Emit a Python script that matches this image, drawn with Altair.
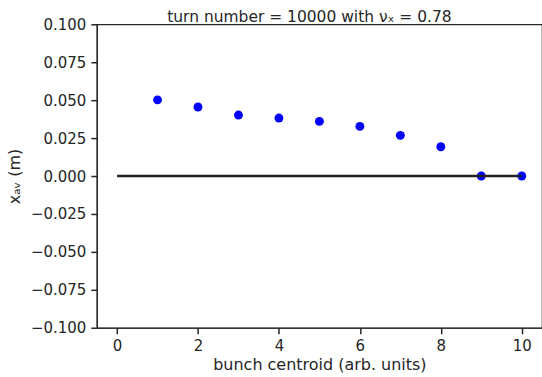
import altair as alt
import pandas as pd

bunch = [1, 2, 3, 4, 5, 6, 7, 8, 9, 10]
x_av = [0.0502, 0.0455, 0.0402, 0.0382, 0.0360, 0.0327, 0.0268, 0.0193, 0.0, 0.0]
line_x = [0, 10]
line_y = [0.0, 0.0]
x_ticks = [0, 2, 4, 6, 8, 10]
y_ticks = [-0.1, -0.075, -0.05, -0.025, 0.0, 0.025, 0.05, 0.075, 0.1]

pts = pd.DataFrame({"bunch": bunch, "xav": x_av})
ln = pd.DataFrame({"bunch": line_x, "xav": line_y})

FONT = "DejaVu Sans"
xs = alt.Scale(domain=[-0.5, 10.5], nice=False, zero=False)
ys = alt.Scale(domain=[-0.1, 0.1], nice=False, zero=False)

xenc = alt.X("bunch:Q", scale=xs,
             axis=alt.Axis(title="bunch centroid (arb. units)", values=x_ticks,
                           format="d", grid=False, titlePadding=3))
yenc = alt.Y("xav:Q", scale=ys,
             axis=alt.Axis(title="xₐᵥ (m)", values=y_ticks, tickCount=9,
                           format=".3f", grid=False, titlePadding=8,
                           labelOverlap=False))

points = alt.Chart(pts).mark_circle(size=80, color="#0000ff", opacity=1).encode(x=xenc, y=yenc)
line = alt.Chart(ln).mark_line(color="#222222", strokeWidth=2.5).encode(x=xenc, y=yenc)

chart = alt.layer(points, line).properties(
    width=446, height=304,
    title=alt.TitleParams("turn number = 10000 with νₓ = 0.78", font=FONT, fontSize=15.5,
                          fontWeight="normal", color="#262626", offset=-8, dx=-10),
    autosize=alt.AutoSizeParams(type="none"),
    padding={"left": 97, "top": 24, "right": 0, "bottom": 49},
).configure_view(stroke="#262626", strokeWidth=1.2).configure_axis(
    labelFont=FONT, titleFont=FONT, labelFontSize=15, titleFontSize=16,
    labelColor="#262626", titleColor="#262626", titleFontWeight="normal",
    domainColor="#262626", tickColor="#262626", tickSize=6, tickWidth=1.5, domainWidth=1.2,
    labelPadding=5, labelOverlap=False, labelBound=False, labelFlush=False,
)

chart.save("out.html", embed_options={"renderer": "svg", "actions": False})
